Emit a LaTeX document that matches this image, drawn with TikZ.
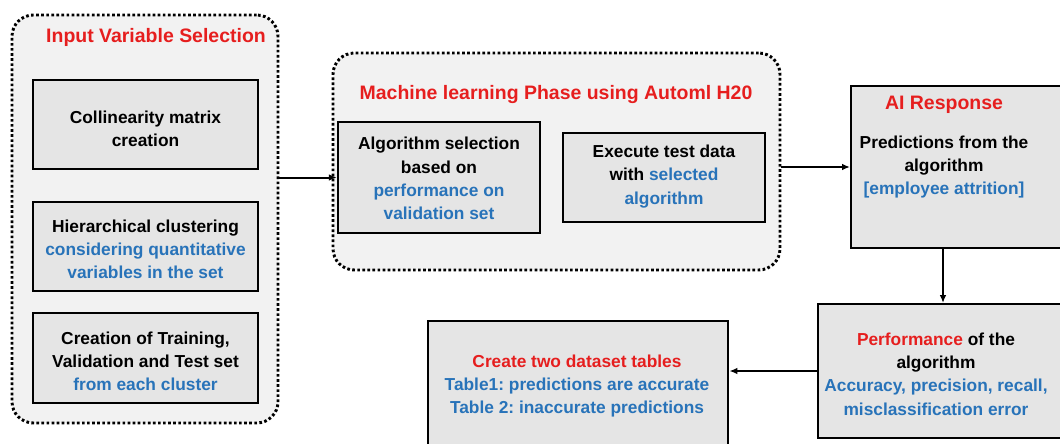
\documentclass[tikz,border=0pt]{standalone}
\usepackage{fontspec}
\setmainfont{Liberation Sans}
\frenchspacing
\usetikzlibrary{arrows.meta,calc}
\definecolor{ired}{RGB}{230,30,30}
\definecolor{iblue}{RGB}{40,115,185}
\definecolor{boxfill}{RGB}{229,229,229}
\definecolor{grpfill}{RGB}{242,242,242}
\begin{document}
\begin{tikzpicture}[x=0.75pt,y=-0.75pt,
  group/.style={draw=black, fill=grpfill, rounded corners=16pt, line width=2.2pt,
    dash pattern=on 2pt off 1.8pt, inner sep=0pt},
  stepbox/.style={draw=black, fill=boxfill, line width=1.8pt, inner sep=0pt},
  txt/.style={align=center, font=\bfseries\fontsize{13}{17.4}\selectfont, inner sep=0pt},
  ttl/.style={font=\bfseries\fontsize{14.6}{17}\selectfont, text=ired, inner sep=0pt},
  conn/.style={line width=1.5pt, -{Latex[length=6pt,width=5pt]}}
]
\clip (0,0) rectangle (1060,443);
\fill[white] (0,0) rectangle (1060,443);

% left group
\node[group, minimum width=199.5pt, minimum height=306pt] (lg) at (145,219) {};
\node[ttl] (lgt) at (156,37) {Input Variable Selection};
\node[stepbox, minimum width=168.75pt, minimum height=66.75pt] (b1) at (145.5,124.5) {};
\node[txt] (b1t) at (145.5,128.5) {Collinearity matrix\\creation};
\node[stepbox, minimum width=168.75pt, minimum height=66.75pt] (b2) at (145.5,246.5) {};
\node[txt] (b2t) at (145.5,249) {Hierarchical clustering\\\textcolor{iblue}{considering quantitative}\\\textcolor{iblue}{variables in the set}};
\node[stepbox, minimum width=168.75pt, minimum height=67.5pt] (b3) at (145.5,358) {};
\node[txt] (b3t) at (145.5,361) {Creation of Training,\\Validation and Test set\\\textcolor{iblue}{from each cluster}};

% middle group
\node[group, minimum width=335.25pt, minimum height=162.75pt] (mg) at (556.5,161.5) {};
\node[ttl] (mgt) at (556,95) {Machine learning Phase using Automl H20};
\node[stepbox, minimum width=151.5pt, minimum height=83.25pt] (ba) at (439,177.5) {};
\node[txt] (bat) at (439,178.5) {Algorithm selection\\based on\\\textcolor{iblue}{performance on}\\\textcolor{iblue}{validation set}};
\node[stepbox, minimum width=151.5pt, minimum height=66.75pt] (bb) at (664,177.5) {};
\node[txt] (bbt) at (664,176.5) {Execute test data\\with \textcolor{iblue}{selected}\\\textcolor{iblue}{algorithm}};

% AI response
\node[stepbox, minimum width=165pt, minimum height=121.5pt, anchor=north west] (ai) at (850,85) {};
\node[txt] (ait) at (944,147) {\textcolor{ired}{\fontsize{14.6}{17}\selectfont AI Response}\\[12pt]Predictions from the\\algorithm\\\textcolor{iblue}{[employee attrition]}};

% performance
\node[stepbox, minimum width=190pt, minimum height=100.5pt, anchor=north west] (pf) at (817,303) {};
\node[txt] (pft) at (936,374) {\textcolor{ired}{Performance} of the\\algorithm\\\textcolor{iblue}{Accuracy, precision, recall,}\\\textcolor{iblue}{misclassification error}};

% tables
\node[stepbox, minimum width=225pt, minimum height=99pt, anchor=north west] (tb) at (427,320) {};
\node[txt] (tbt) at (577,386) {\textcolor{ired}{Create two dataset tables}\\\textcolor{iblue}{Table1: predictions are accurate}\\\textcolor{iblue}{Table 2: inaccurate predictions}};

% connectors
\draw[conn] (lg.east |- ba.west) -- (ba.west);
\draw[conn] (mg.east |- 0,167) -- (ai.west |- 0,167);
\coordinate (aibot) at (943,247);
\draw[conn] (ai.south -| aibot) -- (pf.north -| aibot);
\draw[conn] (pf.west |- 0,371) -- (tb.east |- 0,371);
\end{tikzpicture}
\end{document}
